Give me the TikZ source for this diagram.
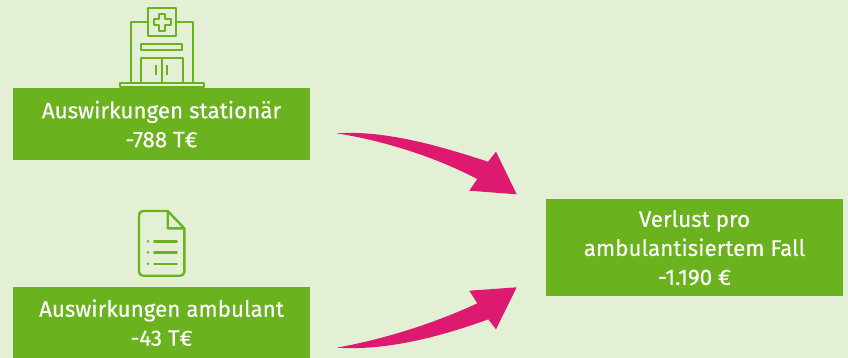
\documentclass[tikz,border=0pt]{standalone}
\usepackage{xcolor}
\usepackage{fontspec}
\setmainfont[FakeBold=0.25]{Fira Sans}
\definecolor{pagegreen}{RGB}{228,240,214}
\definecolor{boxgreen}{RGB}{106,179,30}
\definecolor{arrowpink}{RGB}{222,26,112}

\begin{document}
\begin{tikzpicture}[x=1pt, y=-1pt,
    resultbox/.style={fill=boxgreen, text=white, align=center, minimum width=297pt, inner sep=0pt, text depth=-4pt, font=\fontsize{22.4}{29}\selectfont},
    icon/.style={draw=boxgreen, line width=2pt, line join=round},
    pinkarrow/.style={fill=arrowpink}]
  \useasboundingbox (0, 0) rectangle (848, 358);
  \fill[pagegreen] (0, 0) rectangle (848, 358);

  \node[resultbox, minimum height=72pt] (stat) at (161.5, 124) {Auswirkungen stationär\\-788 T€};
  \node[resultbox, minimum height=71pt] (amb) at (161.5, 322.5) {Auswirkungen ambulant\\-43 T€};
  \node[resultbox, minimum height=97pt] (fall) at (694.5, 247.5) {Verlust pro\\ambulantisiertem Fall\\-1.190 €};

  % hospital
  \draw[icon] (130.7, 82.7) -- (130.7, 21.7) -- (147.7, 21.7);
  \draw[icon] (176, 21.7) -- (193.3, 21.7) -- (193.3, 82.7);
  \draw[icon] (147.7, 7.7) rectangle (176, 36);
  \draw[icon] (159, 14) -- (165, 14) -- (165, 19.5) -- (170.5, 19.5) -- (170.5, 25.5) -- (165, 25.5) -- (165, 31) -- (159, 31) -- (159, 25.5) -- (153.5, 25.5) -- (153.5, 19.5) -- (159, 19.5) -- cycle;
  \draw[icon] (140.7, 43.7) rectangle (182, 50);
  \draw[icon] (140.7, 82.7) -- (140.7, 57.7) -- (183.3, 57.7) -- (183.3, 82.7);
  \draw[icon] (162, 57.7) -- (162, 82.7);
  \draw[icon] (155.7, 65.3) -- (155.7, 75.3);
  \draw[icon] (166.7, 65.3) -- (166.7, 75.3);
  \draw[icon] (120, 82.7) rectangle (204, 87.3);

  % document
  \draw[icon, line width=2.4pt, rounded corners=4pt] (167.7, 211) -- (139, 211) -- (139, 275.7) -- (184.3, 275.7) -- (184.3, 228.3);
  \draw[icon, line width=2.4pt] (184.3, 228.3) -- (167.7, 211) -- (167.7, 228.3) -- cycle;
  \foreach \y in {241.3, 252.3, 263.7} {
    \fill[boxgreen] (148, \y) circle (1.4);
    \draw[icon, line width=2.4pt, line cap=round] (154.3, \y) -- (176.7, \y);
  }

  % arrows
  \coordinate (tail1) at (336.7, 133.3);
  \coordinate (tip1) at (516.7, 194.3);
  \coordinate (tail2) at (336.7, 347.7);
  \coordinate (tip2) at (516.7, 287.3);

  \fill[pinkarrow] (tail1) .. controls (385, 130) and (440, 146) .. (488, 161.7) -- (496, 151.7) -- (tip1) -- (469.3, 190.7) -- (477.3, 179) .. controls (435, 157) and (385, 141) .. cycle;
  \fill[pinkarrow] (tail2) .. controls (385, 351) and (440, 337) .. (488.3, 319.3) -- (496, 329.3) -- (tip2) -- (469.3, 290.7) -- (477.3, 303.3) .. controls (435, 323) and (385, 339) .. cycle;
\end{tikzpicture}
\end{document}
